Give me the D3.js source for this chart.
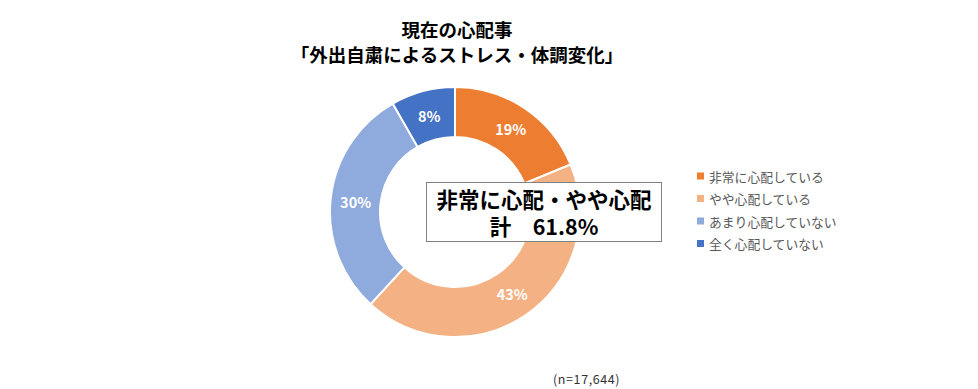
<!DOCTYPE html>
<html>
<head>
<meta charset="utf-8">
<script src="https://cdn.jsdelivr.net/npm/d3@7"></script>
<style>
  body { margin: 0; background: #fff; }
  text { font-family: "Noto Sans CJK JP", "Noto Sans", sans-serif; }
</style>
</head>
<body>
<script>
const categories = ['非常に心配している', 'やや心配している', 'あまり心配していない', '全く心配していない'];
const values = [18.8, 43.0, 29.9, 8.3];
const colors = ['#ED7D31', '#F4B183', '#8FAADC', '#4472C4'];
const titleLines = ['現在の心配事', '「外出自粛によるストレス・体調変化」'];
const calloutLines = ['非常に心配・やや心配', '計　61.8%'];
const note = '(n=17,644)';

const W = 978, H = 389;
const cx = 455, cy = 212, outerR = 125, innerR = 75;

const svg = d3.select('body')
              .append('svg')
                .attr('width', W)
                .attr('height', H);

// title
svg.append('g')
   .selectAll('text')
   .data(titleLines)
   .enter()
     .append('text')
       .attr('x', cx + 2)
       .attr('y', (d, i) => 29 + i * 24.5)
       .attr('text-anchor', 'middle')
       .attr('dominant-baseline', 'central')
       .attr('font-size', 18.5)
       .attr('font-weight', 'bold')
       .attr('fill', '#000')
       .text(d => d);

// donut
const pie = d3.pie().sort(null).value(d => d);
const arc = d3.arc().innerRadius(innerR).outerRadius(outerR);
const labelArc = d3.arc().innerRadius(100).outerRadius(100);
const arcs = pie(values);

const donut = svg.append('g').attr('transform', `translate(${cx},${cy})`);

donut.selectAll('path')
     .data(arcs)
     .enter()
       .append('path')
         .attr('d', arc)
         .attr('fill', (d, i) => colors[i])
         .attr('stroke', '#fff')
         .attr('stroke-width', 2);

donut.selectAll('text')
     .data(arcs)
     .enter()
       .append('text')
         .attr('transform', d => `translate(${labelArc.centroid(d)})`)
         .attr('text-anchor', 'middle')
         .attr('dominant-baseline', 'central')
         .attr('font-family', '"Liberation Sans", Arial, sans-serif')
         .attr('font-size', 14.5)
         .attr('font-weight', 'bold')
         .attr('fill', '#fff')
         .text(d => Math.round(d.data) + '%');

// callout box
const box = svg.append('g');
box.append('rect')
   .attr('x', 426.5).attr('y', 182.5)
   .attr('width', 235).attr('height', 59)
   .attr('fill', '#fff')
   .attr('stroke', '#808080')
   .attr('stroke-width', 1);
box.selectAll('text')
   .data(calloutLines)
   .enter()
     .append('text')
       .attr('x', 544)
       .attr('y', (d, i) => 198.5 + i * 27)
       .attr('text-anchor', 'middle')
       .attr('dominant-baseline', 'central')
       .attr('font-size', 21.5)
       .attr('font-weight', 'bold')
       .attr('fill', '#000')
       .text(d => d);

// legend
const legend = svg.append('g').attr('transform', 'translate(697,176)');
const rows = legend.selectAll('g')
                   .data(categories)
                   .enter()
                     .append('g')
                       .attr('transform', (d, i) => `translate(0,${i * 22.5})`);
rows.append('rect')
    .attr('x', 0).attr('y', -3.5)
    .attr('width', 7).attr('height', 7)
    .attr('fill', (d, i) => colors[i]);
rows.append('text')
    .attr('x', 12)
    .attr('y', 0)
    .attr('dominant-baseline', 'central')
    .attr('font-size', 12.8)
    .attr('fill', '#595959')
    .text(d => d);

// sample size
svg.append('text')
   .attr('x', 553)
   .attr('y', 378)
   .attr('dominant-baseline', 'central')
   .attr('font-size', 12.5)
   .attr('letter-spacing', 0.6)
   .attr('fill', '#333')
   .text(note);
</script>
</body>
</html>
